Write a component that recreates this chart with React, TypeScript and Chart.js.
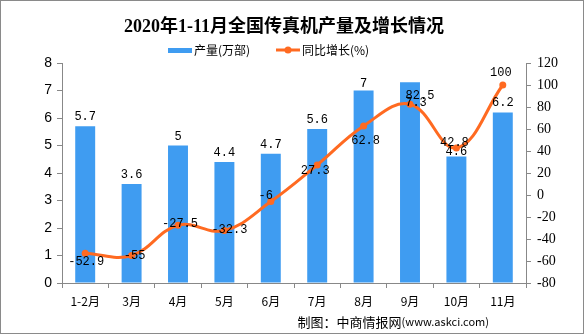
import React, { useEffect, useRef } from "react";
import { Chart, registerables } from "chart.js";

Chart.register(...registerables);

const categories = ["1-2月", "3月", "4月", "5月", "6月", "7月", "8月", "9月", "10月", "11月"];
const output = [5.7, 3.6, 5, 4.4, 4.7, 5.6, 7, 7.3, 4.6, 6.2];
const growth = [-52.9, -55, -27.5, -32.3, -6, 27.3, 62.8, 82.5, 42.8, 100];
const outputLabels = ["5.7", "3.6", "5", "4.4", "4.7", "5.6", "7", "7.3", "4.6", "6.2"];
const growthLabels = ["-52.9", "-55", "-27.5", "-32.3", "-6", "27.3", "62.8", "82.5", "42.8", "100"];

// label placement offsets (px), as in the reference picture
const barLabelDy = [-9, -9, -9, -9, -9, -9, -7, 21, -5, -10];
const barLabelDx = [0, 0, 0, 0, 0, 0, 0, 6, 0, 0];
const lineLabelDx = [1, 3, 2, 5, -5, -2, 2, 10, -2, -2];
const lineLabelDy = [9, 0, -1, -1, -6, 6, 15, -8, -5, -12];

const TITLE = "2020年1-11月全国传真机产量及增长情况";
const LEGEND_BAR = "产量(万部)";
const LEGEND_LINE = "同比增长(%)";
const FOOT_CN = "制图：中商情报网";
const FOOT_URL = "(www.askci.com)";

const BLUE = "#3f9cf1";
const ORANGE = "#ff6a21";
const AXIS = "#888888";

const decor = {
  id: "decor",
  afterDatasetsDraw(chart: any) {
    const ctx = chart.ctx;
    ctx.save();
    ctx.font = "12px 'Liberation Mono', monospace";
    ctx.fillStyle = "#000";
    ctx.textAlign = "center";
    ctx.textBaseline = "middle";
    const barMeta = chart.getDatasetMeta(0);
    barMeta.data.forEach((el: any, i: number) => {
      ctx.fillText(outputLabels[i], el.x + barLabelDx[i], el.y + barLabelDy[i]);
    });
    const lineMeta = chart.getDatasetMeta(1);
    lineMeta.data.forEach((el: any, i: number) => {
      ctx.fillText(growthLabels[i], el.x + lineLabelDx[i], el.y + lineLabelDy[i]);
    });
    ctx.restore();
  },
  afterDraw(chart: any) {
    const ctx = chart.ctx;
    ctx.save();
    ctx.strokeStyle = "#8a8a8a";
    ctx.lineWidth = 1;
    ctx.strokeRect(0.5, 0.5, 583, 333);
    ctx.fillStyle = "#000";
    ctx.textAlign = "center";
    ctx.textBaseline = "middle";
    ctx.font = "bold 18px 'Liberation Serif', 'Noto Sans CJK SC', serif";
    ctx.fillText(TITLE, 284, 27);
    ctx.fillStyle = BLUE;
    ctx.fillRect(168, 48, 24, 5);
    ctx.fillStyle = "#000";
    ctx.textAlign = "left";
    ctx.font = "12px 'Noto Sans CJK SC', sans-serif";
    ctx.fillText(LEGEND_BAR, 194, 50);
    ctx.strokeStyle = ORANGE;
    ctx.lineWidth = 3;
    ctx.beginPath();
    ctx.moveTo(276, 50);
    ctx.lineTo(300, 50);
    ctx.stroke();
    ctx.fillStyle = ORANGE;
    ctx.beginPath();
    ctx.arc(288, 50, 3.5, 0, Math.PI * 2);
    ctx.fill();
    ctx.fillStyle = "#000";
    ctx.fillText(LEGEND_LINE, 302, 50);
    ctx.textAlign = "right";
    ctx.font = "11px 'Noto Sans CJK SC', sans-serif";
    const urlW = ctx.measureText(FOOT_URL).width;
    ctx.fillText(FOOT_URL, 489, 322);
    ctx.font = "13px 'Noto Sans CJK SC', sans-serif";
    ctx.fillText(FOOT_CN, 489 - urlW, 322);
    ctx.restore();
  },
};

export default function App() {
  const ref = useRef<HTMLCanvasElement | null>(null);
  useEffect(() => {
    if (!ref.current) return;
    const chart = new Chart(ref.current, {
      type: "bar",
      data: {
        labels: categories,
        datasets: [
          {
            type: "bar",
            label: LEGEND_BAR,
            data: output,
            backgroundColor: BLUE,
            yAxisID: "y",
            barPercentage: 0.43,
            categoryPercentage: 1,
            order: 2,
          },
          {
            type: "line",
            label: LEGEND_LINE,
            data: growth,
            borderColor: ORANGE,
            backgroundColor: ORANGE,
            borderWidth: 3,
            pointRadius: 3.5,
            pointBackgroundColor: ORANGE,
            pointBorderWidth: 0,
            tension: 0.4,
            yAxisID: "y1",
            order: 1,
          },
        ],
      },
      options: {
        responsive: false,
        animation: false,
        devicePixelRatio: 1,
        layout: { padding: { top: 63, bottom: 21, left: 0, right: 0 } },
        plugins: {
          legend: { display: false },
          title: { display: false },
          tooltip: { enabled: false },
        },
        scales: {
          x: {
            offset: true,
            grid: {
              display: true,
              offset: true,
              drawOnChartArea: false,
              drawTicks: true,
              tickLength: 5,
              color: AXIS,
            },
            border: { color: AXIS },
            ticks: {
              color: "#000",
              padding: 6,
              maxRotation: 0,
              autoSkip: false,
              font: { family: "'Noto Sans CJK SC', sans-serif", size: 12 },
            },
            afterFit: (s: any) => {
              s.height = 30;
            },
          },
          y: {
            position: "left",
            min: 0,
            max: 8,
            ticks: {
              stepSize: 1,
              color: "#000",
              padding: 5,
              font: { family: "'Liberation Sans', sans-serif", size: 14 },
            },
            grid: { drawOnChartArea: false, tickLength: 5, color: AXIS },
            border: { color: AXIS },
            afterFit: (s: any) => {
              s.width = 62;
            },
          },
          y1: {
            position: "right",
            min: -80,
            max: 120,
            ticks: {
              stepSize: 20,
              color: "#000",
              padding: 6,
              font: { family: "'Liberation Serif', serif", size: 14 },
            },
            grid: { drawOnChartArea: false, tickLength: 5, color: AXIS },
            border: { color: AXIS },
            afterFit: (s: any) => {
              s.width = 58;
            },
          },
        },
      },
      plugins: [decor],
    } as any);
    return () => chart.destroy();
  }, []);
  return (
    <div style={{ position: "absolute", left: 0, top: 0, width: 584, height: 334, background: "#fff" }}>
      <canvas ref={ref} width={584} height={334} style={{ width: 584, height: 334, display: "block" }} />
    </div>
  );
}
